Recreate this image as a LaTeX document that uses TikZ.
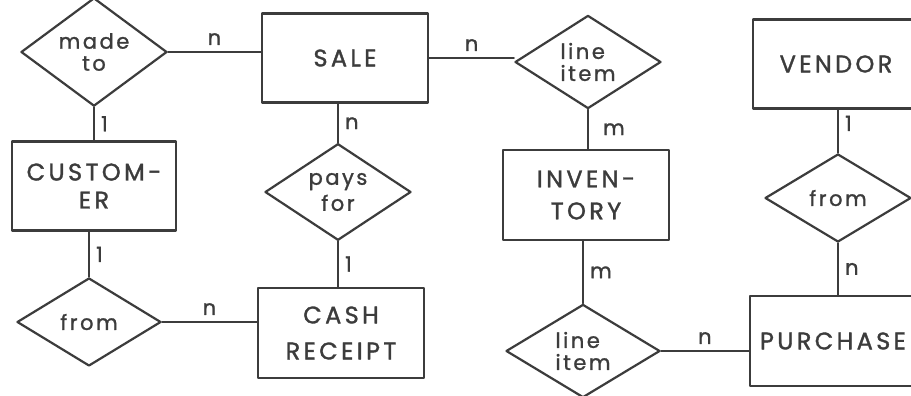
\documentclass[tikz,border=0pt]{standalone}
\usepackage{fontspec}
\setmainfont{Poppins}
\newfontfamily\capsfont[LetterSpace=14,FakeBold=1.4]{Poppins}
\newfontfamily\lowfont[LetterSpace=12,FakeBold=1.2]{Poppins}
\usetikzlibrary{shapes.geometric}
\definecolor{ink}{RGB}{60,60,60}

\begin{document}
\begin{tikzpicture}[x=1pt,y=-1pt,line join=round,line cap=round,color=ink,
  entity/.style={draw,line width=2.6pt,minimum width=166pt,minimum height=89pt,
    inner sep=0pt,align=center,font=\capsfont\fontsize{24}{27}\selectfont},
  relation/.style={draw,diamond,line width=2.2pt,minimum width=146pt,minimum height=88pt,
    inner sep=0pt,align=center,font=\lowfont\fontsize{21}{22}\selectfont},
  card/.style={font=\lowfont\fontsize{21}{22}\selectfont,inner sep=6pt},
  link/.style={line width=2.2pt}]
\clip (0,0) rectangle (911,396);
\fill[white] (0,0) rectangle (911,396);

% entities
\node[entity] (sale) at (345,58) {SALE};
\node[entity] (vendor) at (836,64) {VENDOR};
\node[entity,minimum width=164pt] (cust) at (94,186) {CUSTOM-\\[1pt]ER};
\node[entity,minimum height=90pt] (inven) at (586,195) {INVEN-\\[5pt]TORY};
\node[entity,minimum height=90pt] (cash) at (341,333) {CASH\\[9pt]RECEIPT};
\node[entity,minimum height=90pt] (purch) at (833,341) {PURCHASE};

% relationships
\node[relation] (made) at (94,52) {made\\to};
\node[relation,align=left] (topitem) at (588,62) {line\\item};
\node[relation] (pays) at (338,192) {pays\\[4pt]for};
\node[relation] (fromv) at (838,198) {from};
\node[relation,minimum width=144pt] (fromc) at (89,322) {from};
\node[relation,align=left,minimum width=154pt] (botitem) at (583,351) {line\\item};

% connectors with cardinalities
\draw[link] (made.east) -- node[card,above] {n} (made.east -| sale.west);
\draw[link] (sale.east) -- node[card,above] {n} (sale.east -| topitem.west);
\draw[link] (made.south) -- node[card,right] {1} (made.south |- cust.north);
\draw[link] (pays.north) -- node[card,right] {n} (pays.north |- sale.south);
\draw[link] (topitem.south) -- node[card,right,xshift=8pt] {m} (topitem.south |- inven.north);
\draw[link] (fromv.north) -- node[card,right,yshift=8pt] {1} (fromv.north |- vendor.south);
\draw[link] (fromc.north) -- node[card,right] {1} (fromc.north |- cust.south);
\draw[link] (pays.south) -- node[card,right] {1} (pays.south |- cash.north);
\draw[link] (botitem.north) -- node[card,right] {m} (botitem.north |- inven.south);
\draw[link] (fromv.south) -- node[card,right] {n} (fromv.south |- purch.north);
\draw[link] (fromc.east) -- node[card,above] {n} (fromc.east -| cash.west);
\draw[link] (botitem.east) -- node[card,above] {n} (botitem.east -| purch.west);
\end{tikzpicture}
\end{document}
